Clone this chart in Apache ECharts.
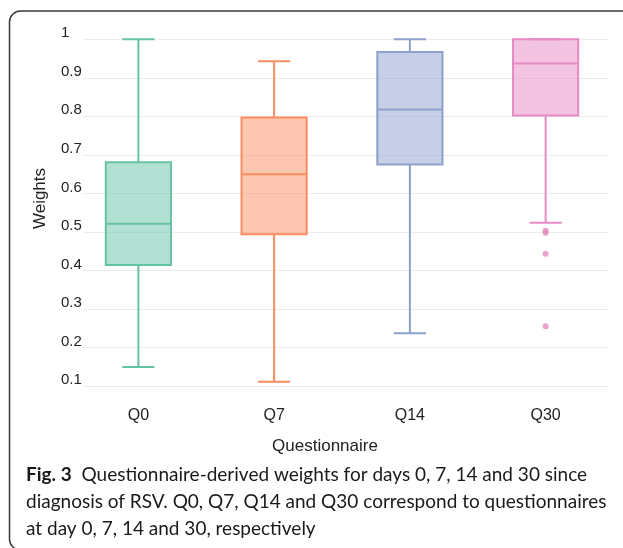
<!DOCTYPE html>
<html><head><meta charset="utf-8">
<script src="https://cdn.jsdelivr.net/npm/echarts@6/dist/echarts.min.js"></script>
<style>html,body{margin:0;padding:0;background:#fff}#c{width:623px;height:548px}</style>
</head><body><div id="c"></div>
<script>
// ---- data ----
const categories = ['Q0', 'Q7', 'Q14', 'Q30'];
const whiskerLow  = [0.149, 0.111, 0.237, 0.524];
const quartile1   = [0.414, 0.494, 0.675, 0.802];
const medians     = [0.521, 0.650, 0.818, 0.937];
const quartile3   = [0.681, 0.797, 0.967, 1.000];
const whiskerHigh = [1.000, 0.943, 1.000, 1.000];
const outlierCategory = ['Q30', 'Q30', 'Q30', 'Q30'];
const outlierValues   = [0.503, 0.498, 0.443, 0.255];
const yTickLabels = ['0.1','0.2','0.3','0.4','0.5','0.6','0.7','0.8','0.9','1'];
const xTitle = 'Questionnaire';
const yTitle = 'Weights';
const captionBold = 'Fig. 3';
const captionLines = [
  'Questionnaire-derived weights for days 0, 7, 14 and 30 since',
  'diagnosis of RSV. Q0, Q7, Q14 and Q30 correspond to questionnaires',
  'at day 0, 7, 14 and 30, respectively'
];

const colors = ['#66c2a5', '#fc8d62', '#8da0cb', '#e78ac3'];
function withAlpha(hex, a) {
  const n = parseInt(hex.slice(1), 16);
  return 'rgba(' + (n >> 16) + ',' + ((n >> 8) & 255) + ',' + (n & 255) + ',' + a + ')';
}
function fitSize(text, family, weight, target) {
  const ctx = document.createElement('canvas').getContext('2d');
  ctx.font = weight + ' 100px ' + family;
  return 100 * target / ctx.measureText(text).width;
}

const boxData = categories.map((c, i) => [i, whiskerLow[i], quartile1[i], medians[i], quartile3[i], whiskerHigh[i]]);
const outlierData = outlierValues.map((v, k) => [categories.indexOf(outlierCategory[k]), v]);

function renderBox(params, api) {
  const i = api.value(0);
  const lo = api.coord([i, api.value(1)]);
  const q1 = api.coord([i, api.value(2)]);
  const md = api.coord([i, api.value(3)]);
  const q3 = api.coord([i, api.value(4)]);
  const hi = api.coord([i, api.value(5)]);
  const band = api.size([1, 0])[0];
  const bw = band * 0.48, cw = band * 0.237;
  const x = lo[0];
  const c = colors[i];
  const ls = { stroke: c, lineWidth: 2, fill: null };
  return {
    type: 'group',
    children: [
      { type: 'line', shape: { x1: x, y1: q3[1], x2: x, y2: hi[1] }, style: ls },
      { type: 'line', shape: { x1: x, y1: lo[1], x2: x, y2: q1[1] }, style: ls },
      { type: 'line', shape: { x1: x - cw / 2, y1: hi[1], x2: x + cw / 2, y2: hi[1] }, style: ls },
      { type: 'line', shape: { x1: x - cw / 2, y1: lo[1], x2: x + cw / 2, y2: lo[1] }, style: ls },
      { type: 'rect', shape: { x: x - bw / 2, y: q3[1], width: bw, height: q1[1] - q3[1] },
        style: { fill: withAlpha(c, 0.5), stroke: c, lineWidth: 2 } },
      { type: 'line', shape: { x1: x - bw / 2, y1: md[1], x2: x + bw / 2, y2: md[1] }, style: ls }
    ]
  };
}

const capFamily = 'Lato';
const capSize = fitSize(captionLines[1], capFamily, 'normal', 581);
const capColor = '#1a1a1a';

const chart = echarts.init(document.getElementById('c'), null, { renderer: 'canvas' });
chart.setOption({
  animation: false,
  backgroundColor: '#ffffff',
  grid: [
    { left: 70.5, width: 543, top: 39.3, height: 346.7 },
    { left: 83, width: 526, top: 39.3, height: 346.7 }
  ],
  xAxis: [
    { type: 'category', gridIndex: 0, data: categories, boundaryGap: true,
      axisLine: { show: false }, axisTick: { show: false }, splitLine: { show: false },
      axisLabel: { margin: 22, fontSize: 16, color: '#222', fontFamily: 'Liberation Sans' } },
    { type: 'value', gridIndex: 1, show: false, min: 0, max: 1 }
  ],
  yAxis: [
    { type: 'value', gridIndex: 0, min: 0.1, max: 1, interval: 0.1, show: false },
    { type: 'value', gridIndex: 1, min: 0.1, max: 1, interval: 0.1,
      axisLine: { show: false }, axisTick: { show: false },
      splitLine: { show: true, lineStyle: { color: '#ececec', width: 1 } },
      axisLabel: { margin: 22, align: 'left', verticalAlign: 'bottom', lineHeight: 12,
        fontSize: 15, color: '#222', fontFamily: 'Liberation Sans',
        formatter: v => yTickLabels[Math.round((v - 0.1) / 0.1)] } }
  ],
  series: [
    { type: 'custom', xAxisIndex: 0, yAxisIndex: 0, data: boxData,
      encode: { x: 0, y: [1, 2, 3, 4, 5] }, renderItem: renderBox, z: 2 },
    { type: 'scatter', xAxisIndex: 0, yAxisIndex: 0, data: outlierData,
      symbol: 'circle', symbolSize: 6, itemStyle: { color: colors[3] }, z: 3 }
  ],
  graphic: [
    { type: 'rect', shape: { x: 9.5, y: 11, width: 640, height: 539, r: 11 },
      style: { fill: null, stroke: '#3a3a3a', lineWidth: 1.5 }, z: 10 },
    { type: 'text', x: 325, y: 446, style: { text: xTitle, fontSize: 17, fontFamily: 'Liberation Sans',
      fill: '#222', align: 'center', verticalAlign: 'middle' } },
    { type: 'text', x: 40, y: 198.5, rotation: Math.PI / 2, style: { text: yTitle, fontSize: 17,
      fontFamily: 'Liberation Sans', fill: '#222', align: 'center', verticalAlign: 'middle' } },
    { type: 'text', x: 26, y: 475, style: {
      text: '{b|' + captionBold + '}  ' + captionLines[0],
      fontSize: capSize, fontFamily: capFamily, fill: capColor, verticalAlign: 'middle',
      rich: { b: { fontWeight: 'bold', fontSize: capSize, fontFamily: capFamily, fill: capColor } } } },
    { type: 'text', x: 26, y: 502, style: { text: captionLines[1], fontSize: capSize,
      fontFamily: capFamily, fill: capColor, verticalAlign: 'middle' } },
    { type: 'text', x: 26, y: 529, style: { text: captionLines[2], fontSize: capSize,
      fontFamily: capFamily, fill: capColor, verticalAlign: 'middle' } }
  ]
});
</script>
</body></html>
